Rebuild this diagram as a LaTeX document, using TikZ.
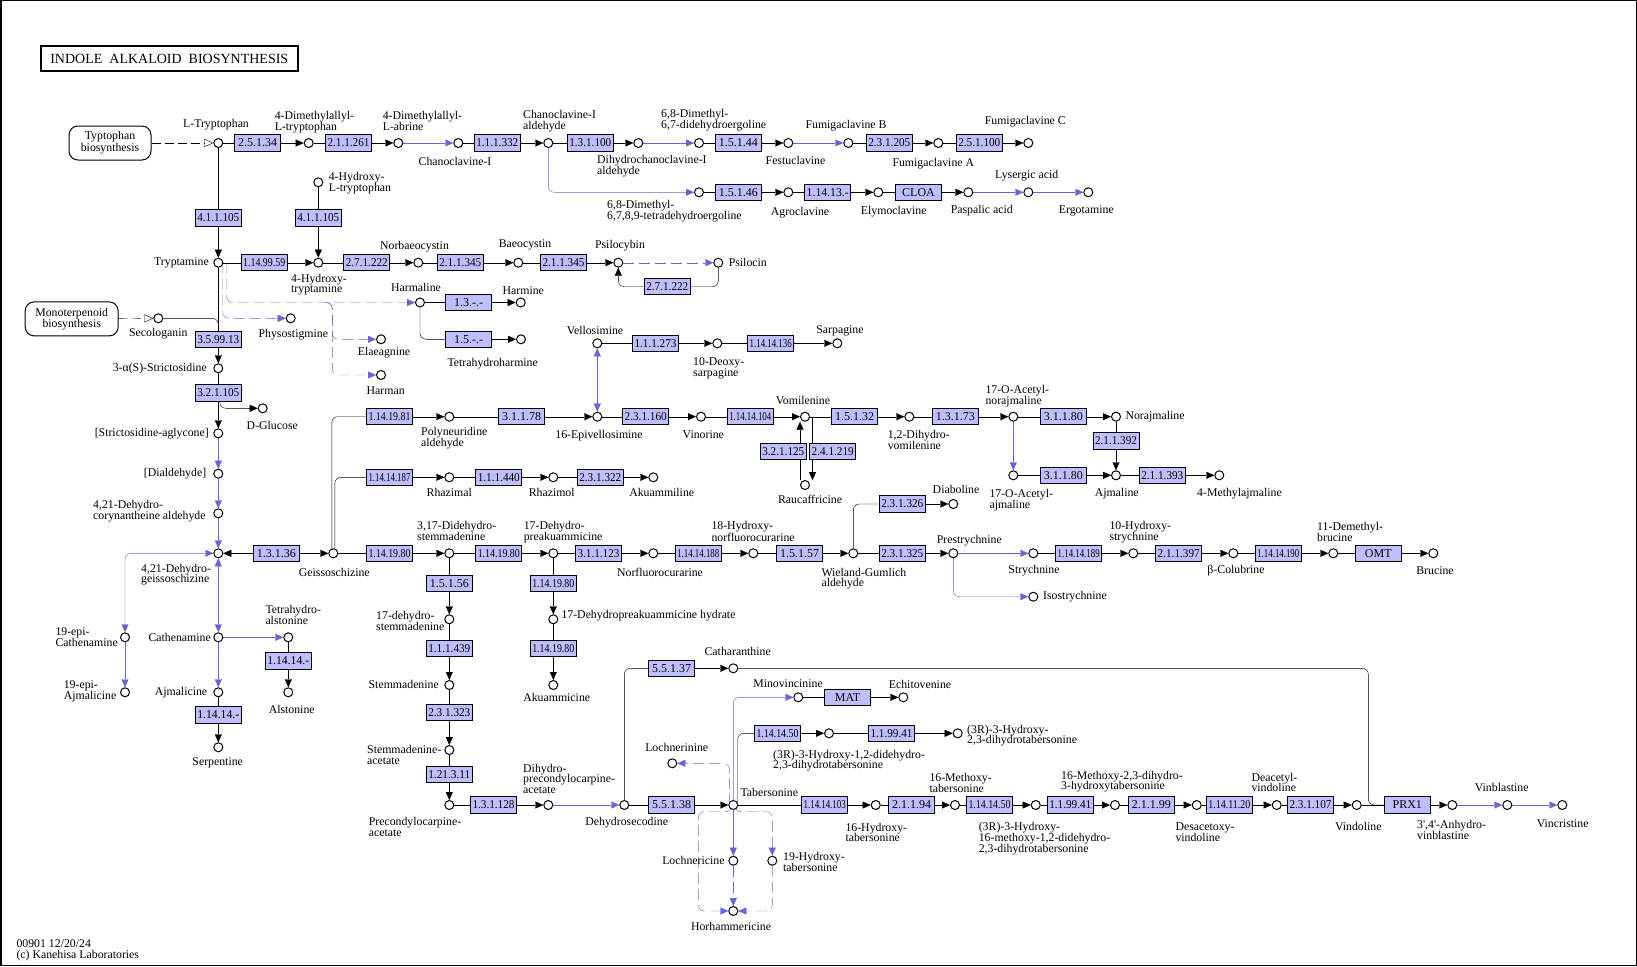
\documentclass[tikz,border=0pt]{standalone}
\usepackage{fontspec}
\usepackage{graphicx}
\setmainfont{Liberation Serif}
\usetikzlibrary{arrows.meta,calc}
\definecolor{ecfill}{RGB}{191,191,255}
\definecolor{kblue}{RGB}{102,102,210}
\newcommand{\lblfont}{\fontsize{11.8}{10.8}\selectfont}
\newcommand{\ecfont}{\fontsize{12}{12}\selectfont}
\newcommand{\titlefont}{\fontsize{14}{16}\selectfont}
\newsavebox{\ecsb}
\newcommand{\ectext}[1]{\sbox{\ecsb}{#1}\ifdim\wd\ecsb>42pt\pgfmathparse{42pt/\wd\ecsb}\scalebox{\pgfmathresult}[1]{\usebox{\ecsb}}\else\usebox{\ecsb}\fi}
\newcommand{\mkcpd}[3]{\node[cpd] (#1) at (#2,#3) {};}
\newcommand{\mkec}[4]{\node[ecbox] (#1) at (#2,#3) {\ectext{#4}};}
\newcommand{\labC}[4]{\node[lbl] (#1) at (#2,#3) {#4};}
\newcommand{\labW}[4]{\node[lbl,anchor=west] (#1) at (#2,#3) {#4};}
\newcommand{\labE}[4]{\node[lbl,anchor=east] (#1) at (#2,#3) {#4};}
\newcommand{\labNW}[4]{\node[lbl,anchor=north west,yshift=4.8pt] (#1) at (#2,#3) {#4};}
\newcommand{\rxn}[3]{\draw (#1) -- (#2); \draw[->] (#2) -- (#3);}
\newcommand{\bxn}[2]{\draw[blu,->] (#1) -- (#2);}
\pgfdeclarelayer{bg}
\pgfsetlayers{bg,main}
\begin{document}
\begin{tikzpicture}[x=1pt,y=-1pt,line width=1pt,
  >={Triangle[length=8pt,width=7pt]},
  cpd/.style={circle,draw,fill=white,minimum size=9pt,inner sep=0pt,line width=1pt},
  ecbox/.style={draw,fill=ecfill,minimum width=46pt,minimum height=16.5pt,inner sep=0pt,font=\ecfont},
  mapbox/.style={draw,rounded corners=9pt,minimum width=82pt,minimum height=34pt,align=center,inner sep=0pt,font=\fontsize{11.8}{10.7}\selectfont},
  lbl/.style={inner sep=0pt,font=\lblfont,align=left,execute at begin node={\rule{0pt}{8.6pt}},execute at end node={\rule[-1pt]{0pt}{0pt}}},
  blu/.style={color=kblue},
  bdash/.style={color=kblue,dash pattern=on 11pt off 5pt},
  mdash/.style={dash pattern=on 9pt off 4pt,-{Triangle[open,length=9pt,width=8pt]}}]
\useasboundingbox (0,0) rectangle (1637,966);
\draw[line width=1.5pt] (0.75,0.75) rectangle (1636.25,965.25);
\node[draw,line width=2pt,minimum width=257pt,minimum height=25pt,inner sep=0pt,font=\titlefont] (title) at (169.3,58.5) {INDOLE\ \ ALKALOID\ \ BIOSYNTHESIS};
\node[mapbox] (map1) at (110,143) {Typtophan\\biosynthesis};
\node[mapbox,minimum width=93pt] (map2) at (71.7,318.9) {Monoterpenoid\\biosynthesis};
% compounds
\mkcpd{ltrp}{218.3}{143}
\mkcpd{dmat}{308.7}{143}
\mkcpd{dmab}{398.3}{143}
\mkcpd{chan}{458.3}{143}
\mkcpd{chald}{548.3}{143}
\mkcpd{dhcha}{638.3}{143}
\mkcpd{dmdde}{699}{143}
\mkcpd{festu}{788.3}{143}
\mkcpd{fumb}{848.3}{143}
\mkcpd{fuma}{938.3}{143}
\mkcpd{fumc}{1028.3}{143}
\mkcpd{dmtde}{699}{192.3}
\mkcpd{agro}{788.3}{192.3}
\mkcpd{elymo}{878.3}{192.3}
\mkcpd{paspa}{968.3}{192.3}
\mkcpd{lyser}{1028.3}{192.3}
\mkcpd{ergot}{1088.3}{192.3}
\mkcpd{hltrp}{318.3}{182.3}
\mkcpd{trypt}{218.3}{262.7}
\mkcpd{htrypt}{318.3}{262.7}
\mkcpd{norbae}{418.3}{262.7}
\mkcpd{baeo}{518.3}{262.7}
\mkcpd{psilcy}{618.3}{262.7}
\mkcpd{psilo}{718.3}{262.7}
\mkcpd{harml}{420}{302.5}
\mkcpd{harmi}{520.7}{302.5}
\mkcpd{thharm}{521}{339.3}
\mkcpd{physo}{290.7}{318.3}
\mkcpd{elaeag}{381}{339.3}
\mkcpd{harman}{381}{375}
\mkcpd{seco}{158.3}{318.3}
\mkcpd{strict}{218.3}{368.3}
\mkcpd{dglc}{262.7}{408.3}
\mkcpd{stragl}{218.3}{433.3}
\mkcpd{dial}{218.3}{473.7}
\mkcpd{dca}{218.3}{513.3}
\mkcpd{dg}{218.3}{553.3}
\mkcpd{geiss}{333.3}{553.3}
\mkcpd{epicat}{125}{637.3}
\mkcpd{cathe}{218.3}{637.3}
\mkcpd{thals}{288.3}{637.3}
\mkcpd{alsto}{288.3}{692.3}
\mkcpd{epiajm}{125}{692.3}
\mkcpd{ajmc}{218.3}{692.3}
\mkcpd{serp}{218.3}{747.3}
\mkcpd{polyal}{449.3}{416.7}
\mkcpd{epivel}{597.3}{416.7}
\mkcpd{velo}{597.3}{343.3}
\mkcpd{deoxs}{717.3}{343.3}
\mkcpd{sarpa}{837.3}{343.3}
\mkcpd{vinor}{701}{416.7}
\mkcpd{vomil}{805}{416.7}
\mkcpd{rauc}{805}{485}
\mkcpd{dhvom}{909.3}{416.7}
\mkcpd{aconor}{1013.3}{416.7}
\mkcpd{noraj}{1116}{416.7}
\mkcpd{acoaj}{1013.3}{475.3}
\mkcpd{ajmal}{1116}{475.3}
\mkcpd{meajm}{1219.3}{475.3}
\mkcpd{rhzal}{449.3}{477.3}
\mkcpd{rhzol}{553.3}{477.3}
\mkcpd{akuml}{653.3}{477.3}
\mkcpd{ddstem}{449.3}{553.3}
\mkcpd{dhpre}{553.3}{553.3}
\mkcpd{norfl}{653.3}{553.3}
\mkcpd{hnorf}{753.3}{553.3}
\mkcpd{wg}{853.3}{553.3}
\mkcpd{diab}{953.3}{504}
\mkcpd{prest}{953.3}{553.3}
\mkcpd{stry}{1033.3}{553.3}
\mkcpd{isost}{1033.3}{596.7}
\mkcpd{hstry}{1133.3}{553.3}
\mkcpd{bcol}{1233.3}{553.3}
\mkcpd{dmbru}{1333.3}{553.3}
\mkcpd{bruc}{1433.3}{553.3}
\mkcpd{dhpreh}{553.3}{619.3}
\mkcpd{akumc}{553.3}{685}
\mkcpd{dstem}{449.3}{619.3}
\mkcpd{stem}{449.3}{685}
\mkcpd{stemac}{449.3}{750}
\mkcpd{precac}{449.3}{805}
\mkcpd{dhprec}{548.3}{805}
\mkcpd{dhsec}{624.3}{805}
\mkcpd{cathar}{733.3}{668.3}
\mkcpd{minov}{798.3}{697.3}
\mkcpd{echit}{903.3}{697.3}
\mkcpd{hdt}{829}{733.3}
\mkcpd{hdht}{957.7}{733.3}
\mkcpd{lochnn}{672.3}{763.3}
\mkcpd{taber}{733.3}{805}
\mkcpd{lochnc}{733.3}{860.7}
\mkcpd{hytab}{772.3}{860.7}
\mkcpd{horh}{733.3}{911}
\mkcpd{htab}{875.7}{805}
\mkcpd{mtab}{955}{805}
\mkcpd{hmdd}{1035.7}{805}
\mkcpd{mdht}{1115}{805}
\mkcpd{desac}{1196.7}{805}
\mkcpd{deac}{1276.7}{805}
\mkcpd{vindo}{1356.7}{805}
\mkcpd{anhv}{1452.3}{805}
\mkcpd{vinbl}{1507.3}{805}
\mkcpd{vincr}{1562.3}{805}
% enzymes
\mkec{e1}{257.5}{143}{2.5.1.34}
\mkec{e2}{348.5}{143}{2.1.1.261}
\mkec{e3}{497.3}{143}{1.1.1.332}
\mkec{e4}{590.3}{143}{1.3.1.100}
\mkec{e5}{738.3}{143}{1.5.1.44}
\mkec{e6}{889.3}{143}{2.3.1.205}
\mkec{e7}{979.3}{143}{2.5.1.100}
\mkec{e8}{738.3}{192.3}{1.5.1.46}
\mkec{e9}{827.7}{192.3}{1.14.13.-}
\mkec{e10}{918.5}{192.3}{CLOA}
\mkec{e11}{218.3}{218}{4.1.1.105}
\mkec{e12}{318.3}{218}{4.1.1.105}
\mkec{e13}{264.2}{262.7}{1.14.99.59}
\mkec{e14}{366.8}{262.7}{2.7.1.222}
\mkec{e15}{460.3}{262.7}{2.1.1.345}
\mkec{e16}{563.5}{262.7}{2.1.1.345}
\mkec{e17}{667.3}{286.7}{2.7.1.222}
\mkec{e18}{468.7}{302.5}{1.3.-.-}
\mkec{e19}{468.7}{339.3}{1.5.-.-}
\mkec{e20}{218.3}{339.3}{3.5.99.13}
\mkec{e21}{218.3}{393}{3.2.1.105}
\mkec{e22}{276.3}{553.3}{1.3.1.36}
\mkec{e23}{288.3}{661}{1.14.14.-}
\mkec{e24}{218.3}{715}{1.14.14.-}
\mkec{e25}{389.5}{416.7}{1.14.19.81}
\mkec{e26}{521.5}{416.7}{3.1.1.78}
\mkec{e27}{655.5}{343.3}{1.1.1.273}
\mkec{e28}{770.7}{343.3}{1.14.14.136}
\mkec{e29}{645.7}{416.7}{2.3.1.160}
\mkec{e30}{750.3}{416.7}{1.14.14.104}
\mkec{e31}{783.3}{451.7}{3.2.1.125}
\mkec{e32}{832.7}{451.7}{2.4.1.219}
\mkec{e33}{854.7}{416.7}{1.5.1.32}
\mkec{e34}{955.3}{416.7}{1.3.1.73}
\mkec{e35}{1063.3}{416.7}{3.1.1.80}
\mkec{e36}{1116}{441}{2.1.1.392}
\mkec{e37}{1063.3}{475.3}{3.1.1.80}
\mkec{e38}{1162.3}{475.3}{2.1.1.393}
\mkec{e39}{389.5}{477.3}{1.14.14.187}
\mkec{e40}{498.8}{477.3}{1.1.1.440}
\mkec{e41}{600.3}{477.3}{2.3.1.322}
\mkec{e42}{389.5}{553.3}{1.14.19.80}
\mkec{e43}{498.8}{553.3}{1.14.19.80}
\mkec{e44}{598.5}{553.3}{3.1.1.123}
\mkec{e45}{698.3}{553.3}{1.14.14.188}
\mkec{e46}{799.7}{553.3}{1.5.1.57}
\mkec{e47}{902.3}{504}{2.3.1.326}
\mkec{e48}{902.3}{553.3}{2.3.1.325}
\mkec{e49}{1078.7}{553.3}{1.14.14.189}
\mkec{e50}{1178.7}{553.3}{2.1.1.397}
\mkec{e51}{1278.3}{553.3}{1.14.14.190}
\mkec{e52}{1378.3}{553.3}{OMT}
\mkec{e53}{449.3}{583.3}{1.5.1.56}
\mkec{e54}{553.3}{583.3}{1.14.19.80}
\mkec{e55}{553.3}{648.7}{1.14.19.80}
\mkec{e56}{449.3}{648.7}{1.1.1.439}
\mkec{e57}{449.3}{712.5}{2.3.1.323}
\mkec{e58}{449.3}{774.3}{1.21.3.11}
\mkec{e59}{493.5}{805}{1.3.1.128}
\mkec{e60}{671.5}{668.3}{5.5.1.37}
\mkec{e61}{671.5}{805}{5.5.1.38}
\mkec{e62}{847.5}{697.3}{MAT}
\mkec{e63}{777.5}{733.3}{1.14.14.50}
\mkec{e64}{891.5}{733.3}{1.1.99.41}
\mkec{e65}{824.7}{805}{1.14.14.103}
\mkec{e66}{911.5}{805}{2.1.1.94}
\mkec{e67}{989.5}{805}{1.14.14.50}
\mkec{e68}{1070.3}{805}{1.1.99.41}
\mkec{e69}{1151.3}{805}{2.1.1.99}
\mkec{e70}{1229.3}{805}{1.14.11.20}
\mkec{e71}{1310.5}{805}{2.3.1.107}
\mkec{e72}{1407.3}{805}{PRX1}
% helper coordinates
\coordinate (hbA) at (326,302.5);
\coordinate (hbB) at (332.3,302.5);
\coordinate (tl) at (698.3,811.7);
\coordinate (tr) at (772.3,811.7);
\coordinate (cj) at (1368.3,805);
% labels
\labNW{l1}{274.3}{115.7}{4-Dimethylallyl-\\L-tryptophan}
\labNW{l2}{382.3}{115.7}{4-Dimethylallyl-\\L-abrine}
\labNW{l3}{522.7}{115}{Chanoclavine-I\\aldehyde}
\labNW{l4}{660.7}{114}{6,8-Dimethyl-\\6,7-didehydroergoline}
\labNW{l5}{596.7}{160}{Dihydrochanoclavine-I\\aldehyde}
\labNW{l6}{606.7}{204.7}{6,8-Dimethyl-\\6,7,8,9-tetradehydroergoline}
\labNW{l7}{328.3}{176.7}{4-Hydroxy-\\L-tryptophan}
\labNW{l8}{290.7}{278.3}{4-Hydroxy-\\tryptamine}
\labNW{l9}{420.7}{431.7}{Polyneuridine\\aldehyde}
\labNW{l10}{692.7}{362}{10-Deoxy-\\sarpagine}
\labNW{l11}{887.3}{435}{1,2-Dihydro-\\vomilenine}
\labNW{l12}{985}{390}{17-O-Acetyl-\\norajmaline}
\labNW{l13}{989}{493.7}{17-O-Acetyl-\\ajmaline}
\labNW{l14}{416.7}{526}{3,17-Didehydro-\\stemmadenine}
\labNW{l15}{523.3}{526}{17-Dehydro-\\preakuammicine}
\labNW{l16}{711}{526}{18-Hydroxy-\\norfluorocurarine}
\labNW{l17}{821}{572.3}{Wieland-Gumlich\\aldehyde}
\labNW{l18}{1109}{526}{10-Hydroxy-\\strychnine}
\labNW{l19}{1316.7}{527}{11-Demethyl-\\brucine}
\labNW{l20}{92.7}{505}{4,21-Dehydro-\\corynantheine aldehyde}
\labNW{l21}{140.7}{568.3}{4,21-Dehydro-\\geissoschizine}
\labNW{l22}{55}{631.7}{19-epi-\\Cathenamine}
\labNW{l23}{265}{610}{Tetrahydro-\\alstonine}
\labNW{l24}{63.3}{685}{19-epi-\\Ajmalicine}
\labNW{l25}{375.7}{615.7}{17-dehydro-\\stemmadenine}
\labNW{l26}{366.7}{750}{Stemmadenine-\\acetate}
\labNW{l27}{368.3}{822}{Precondylocarpine-\\acetate}
\labNW{l28}{522.7}{768.3}{Dihydro-\\precondylocarpine-\\acetate}
\labNW{l29}{772.7}{754.3}{(3R)-3-Hydroxy-1,2-didehydro-\\2,3-dihydrotabersonine}
\labNW{l30}{966.7}{729.3}{(3R)-3-Hydroxy-\\2,3-dihydrotabersonine}
\labNW{l31}{845}{827.3}{16-Hydroxy-\\tabersonine}
\labNW{l32}{929}{777.7}{16-Methoxy-\\tabersonine}
\labNW{l33}{978.3}{826.7}{(3R)-3-Hydroxy-\\16-methoxy-1,2-didehydro-\\2,3-dihydrotabersonine}
\labNW{l34}{1060.7}{775.3}{16-Methoxy-2,3-dihydro-\\3-hydroxytabersonine}
\labNW{l35}{1175}{827}{Desacetoxy-\\vindoline}
\labNW{l36}{1251}{777.3}{Deacetyl-\\vindoline}
\labNW{l37}{1416.7}{825}{3\textquotesingle,4\textquotesingle-Anhydro-\\vinblastine}
\labNW{l38}{782.7}{856.7}{19-Hydroxy-\\tabersonine}
\labNW{l39}{16}{944.3}{00901 12/20/24\\(c) Kanehisa Laboratories}
\labC{c1}{216}{124.3}{L-Tryptophan}
\labC{c2}{455}{162}{Chanoclavine-I}
\labC{c3}{795.5}{160.7}{Festuclavine}
\labC{c4}{846}{125.7}{Fumigaclavine B}
\labC{c5}{933.3}{163}{Fumigaclavine A}
\labC{c6}{1025.3}{121.7}{Fumigaclavine C}
\labC{c7}{800}{212.7}{Agroclavine}
\labC{c8}{893.7}{211.7}{Elymoclavine}
\labC{c9}{981.7}{210.7}{Paspalic acid}
\labC{c10}{1026.7}{175.7}{Lysergic acid}
\labC{c11}{1086.3}{210}{Ergotamine}
\labE{c12}{209.3}{262.7}{Tryptamine}
\labC{c13}{414.5}{246.4}{Norbaeocystin}
\labC{c14}{525}{244}{Baeocystin}
\labC{c15}{620}{245.7}{Psilocybin}
\labW{c16}{728.3}{262.7}{Psilocin}
\labC{c17}{416}{288}{Harmaline}
\labC{c18}{523.3}{290.7}{Harmine}
\labC{c19}{492.7}{363.7}{Tetrahydroharmine}
\labC{c20}{293.3}{334.7}{Physostigmine}
\labC{c21}{384}{352.7}{Elaeagnine}
\labC{c22}{385.7}{390.7}{Harman}
\labC{c23}{158.3}{333.3}{Secologanin}
\labE{c24}{207.3}{368.3}{3-α(S)-Strictosidine}
\labC{c25}{272.3}{426}{D-Glucose}
\labE{c26}{209.3}{433.3}{[Strictosidine-aglycone]}
\labE{c27}{206.7}{473.7}{[Dialdehyde]}
\labE{c28}{211.3}{637.3}{Cathenamine}
\labE{c29}{207.7}{692.3}{Ajmalicine}
\labC{c30}{291.7}{710}{Alstonine}
\labC{c31}{217.7}{762.7}{Serpentine}
\labC{c32}{334.3}{572.7}{Geissoschizine}
\labC{c33}{595}{330.7}{Vellosimine}
\labC{c34}{599}{435}{16-Epivellosimine}
\labC{c35}{840}{330.7}{Sarpagine}
\labC{c36}{703.3}{435}{Vinorine}
\labC{c37}{803}{400.7}{Vomilenine}
\labC{c38}{810}{500}{Raucaffricine}
\labW{c39}{1125}{416.7}{Norajmaline}
\labC{c40}{1116.7}{493}{Ajmaline}
\labW{c41}{1196.7}{493}{4-Methylajmaline}
\labC{c42}{449.3}{492.7}{Rhazimal}
\labC{c43}{551.7}{492.7}{Rhazimol}
\labC{c44}{661.7}{492.7}{Akuammiline}
\labC{c45}{660}{572.7}{Norfluorocurarine}
\labC{c46}{956}{490}{Diaboline}
\labC{c47}{969.3}{540.7}{Prestrychnine}
\labC{c48}{1034}{570.7}{Strychnine}
\labW{c49}{1042.7}{596.7}{Isostrychnine}
\labC{c50}{1236}{570.7}{β-Colubrine}
\labC{c51}{1435}{570.7}{Brucine}
\labW{c52}{561}{615.7}{17-Dehydropreakuammicine hydrate}
\labC{c53}{556.7}{697.7}{Akuammicine}
\labE{c54}{439.3}{685}{Stemmadenine}
\labC{c55}{737.7}{651.7}{Catharanthine}
\labC{c56}{788}{683.3}{Minovincinine}
\labC{c57}{920}{685}{Echitovenine}
\labC{c58}{676.7}{747.7}{Lochnerinine}
\labC{c59}{769.3}{792.7}{Tabersonine}
\labC{c60}{626.7}{822.7}{Dehydrosecodine}
\labE{c61}{725}{860.7}{Lochnericine}
\labC{c62}{731}{926.7}{Horhammericine}
\labC{c63}{1358.3}{826.7}{Vindoline}
\labC{c64}{1501.7}{787.7}{Vinblastine}
\labC{c65}{1562.7}{823.3}{Vincristine}
% connectors
\begin{pgfonlayer}{bg}
\begin{scope}[rounded corners=6pt]
\draw[mdash] (map1) -- (ltrp);
\draw[mdash] (map2) -- (seco);
\rxn{ltrp}{e1}{dmat}
\rxn{dmat}{e2}{dmab}
\bxn{dmab}{chan}
\rxn{chan}{e3}{chald}
\rxn{chald}{e4}{dhcha}
\bxn{dhcha}{dmdde}
\rxn{dmdde}{e5}{festu}
\bxn{festu}{fumb}
\rxn{fumb}{e6}{fuma}
\rxn{fuma}{e7}{fumc}
\draw[blu,->] (chald) |- (dmtde);
\rxn{dmtde}{e8}{agro}
\rxn{agro}{e9}{elymo}
\rxn{elymo}{e10}{paspa}
\bxn{paspa}{lyser}
\bxn{lyser}{ergot}
\rxn{ltrp}{e11}{trypt}
\rxn{hltrp}{e12}{htrypt}
\rxn{trypt}{e13}{htrypt}
\rxn{htrypt}{e14}{norbae}
\rxn{norbae}{e15}{baeo}
\rxn{baeo}{e16}{psilcy}
\draw[bdash,->] (psilcy) -- (psilo);
\draw (psilo) |- (e17);
\draw[->] (e17) -| (psilcy);
\draw[bdash,->] ([xshift=4.4pt]trypt.center) |- (physo);
\draw[bdash,->] ([xshift=8.4pt]trypt.center) |- (harml);
\draw[bdash,->] (hbA) -- (hbB) |- (elaeag);
\draw[bdash,->] (hbA) -- (hbB) |- (harman);
\rxn{harml}{e18}{harmi}
\draw (harml) |- (e19);
\draw[->] (e19) -- (thharm);
\draw (seco) -| (e20);
\draw (trypt) -- (e20);
\draw[->] (e20) -- (strict);
\draw (strict) -- (e21);
\draw[->] (e21) -- (stragl);
\draw[->] ([xshift=1.5pt]e21.south) |- (dglc);
\bxn{stragl}{dial}
\bxn{dial}{dca}
\bxn{dca}{dg}
\draw[->] (e22) -- (dg);
\draw[->] (e22) -- (geiss);
\draw[blu,<->] (epicat) |- (dg);
\draw[blu,<->] (dg) -- (cathe);
\bxn{cathe}{thals}
\rxn{thals}{e23}{alsto}
\bxn{epicat}{epiajm}
\bxn{cathe}{ajmc}
\rxn{ajmc}{e24}{serp}
\draw ([xshift=-1.5pt]geiss.center) |- (e25);
\draw ([xshift=1.5pt]geiss.center) |- (e39);
\draw[->] (e25) -- (polyal);
\rxn{polyal}{e26}{epivel}
\draw[blu,<->] (epivel) -- (velo);
\rxn{velo}{e27}{deoxs}
\rxn{deoxs}{e28}{sarpa}
\rxn{epivel}{e29}{vinor}
\rxn{vinor}{e30}{vomil}
\rxn{vomil}{e33}{dhvom}
\rxn{dhvom}{e34}{aconor}
\rxn{aconor}{e35}{noraj}
\rxn{noraj}{e36}{ajmal}
\bxn{aconor}{acoaj}
\rxn{acoaj}{e37}{ajmal}
\rxn{ajmal}{e38}{meajm}
\draw[->] ([xshift=-5pt]rauc.north) -- ([xshift=-5pt]vomil.south);
\draw[->] ([xshift=7.5pt]vomil.center) -- ([xshift=7.5pt]rauc.north);
\draw[->] (e39) -- (rhzal);
\rxn{rhzal}{e40}{rhzol}
\rxn{rhzol}{e41}{akuml}
\rxn{geiss}{e42}{ddstem}
\rxn{ddstem}{e43}{dhpre}
\rxn{dhpre}{e44}{norfl}
\rxn{norfl}{e45}{hnorf}
\rxn{hnorf}{e46}{wg}
\draw (wg) |- (e47);
\draw[->] (e47) -- (diab);
\rxn{wg}{e48}{prest}
\bxn{prest}{stry}
\draw[blu,->] (prest) |- (isost);
\rxn{stry}{e49}{hstry}
\rxn{hstry}{e50}{bcol}
\rxn{bcol}{e51}{dmbru}
\rxn{dmbru}{e52}{bruc}
\rxn{ddstem}{e53}{dstem}
\rxn{dstem}{e56}{stem}
\rxn{stem}{e57}{stemac}
\rxn{stemac}{e58}{precac}
\rxn{precac}{e59}{dhprec}
\bxn{dhprec}{dhsec}
\rxn{dhpre}{e54}{dhpreh}
\rxn{dhpreh}{e55}{akumc}
\draw (dhsec) |- (e60);
\draw[->] (e60) -- (cathar);
\draw (cathar) -| (cj) -- (e72);
\rxn{dhsec}{e61}{taber}
\rxn{taber}{e65}{htab}
\rxn{htab}{e66}{mtab}
\rxn{mtab}{e67}{hmdd}
\rxn{hmdd}{e68}{mdht}
\rxn{mdht}{e69}{desac}
\rxn{desac}{e70}{deac}
\rxn{deac}{e71}{vindo}
\rxn{vindo}{e72}{anhv}
\bxn{anhv}{vinbl}
\bxn{vinbl}{vincr}
\draw[blu,->] (taber) |- (minov);
\rxn{minov}{e62}{echit}
\draw ([xshift=4.4pt]taber.center) |- (e63);
\draw[->] (e63) -- (hdt);
\rxn{hdt}{e64}{hdht}
\draw[bdash,->] ([xshift=-4pt]taber.center) |- (lochnn);
\bxn{taber}{lochnc}
\draw[bdash,->] (lochnc) -- (horh);
\draw[bdash,->] ([xshift=-1.5pt]taber.center) |- (tl) |- (horh);
\draw[bdash,->] ([xshift=1.5pt]taber.center) |- (tr) -- (hytab);
\draw[bdash,->] (hytab) |- (horh);
\end{scope}
\end{pgfonlayer}
\end{tikzpicture}
\end{document}
